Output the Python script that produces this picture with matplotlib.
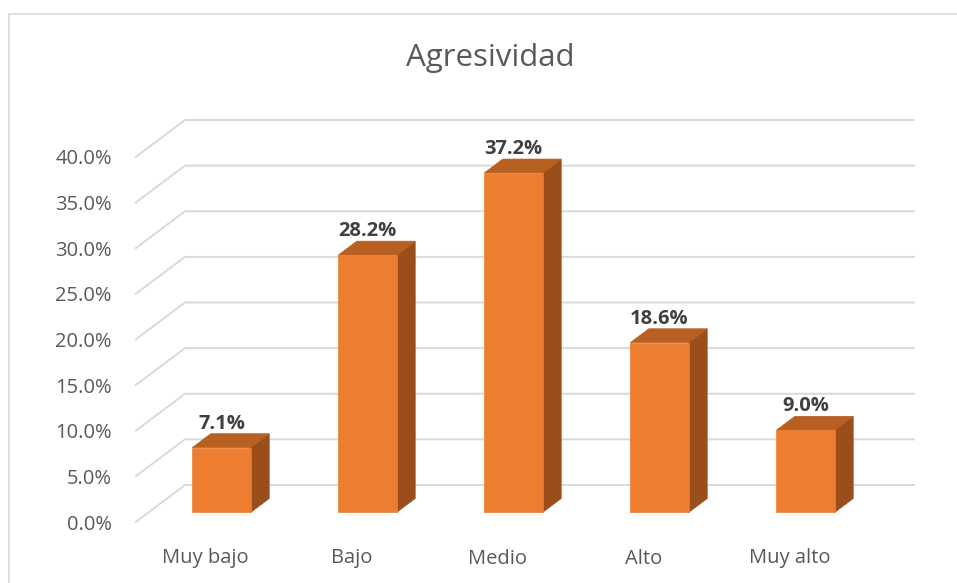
import matplotlib.pyplot as plt
import matplotlib.patches as patches
from matplotlib.patches import Polygon

# data
categorias = ["Muy bajo", "Bajo", "Medio", "Alto", "Muy alto"]
valores = [7.1, 28.2, 37.2, 18.6, 9.0]
etiquetas = ["7.1%", "28.2%", "37.2%", "18.6%", "9.0%"]
ticks_y = [0, 5, 10, 15, 20, 25, 30, 35, 40]
ticks_txt = ["0.0%", "5.0%", "10.0%", "15.0%", "20.0%", "25.0%", "30.0%", "35.0%", "40.0%"]

# depth of the 3d box in data units (front minus back)
DX = -50 / 146
DY = -37.5 / 9.125
f_front = 0.73
f_back = 0.36
hw = 0.2

c_front = "#ED7D31"
c_top = "#B85F22"
c_side = "#9A4E1B"
c_grid = "#D9D9D9"

plt.rcParams['font.family'] = ['Open Sans', 'DejaVu Sans']

fig = plt.figure(figsize=(9.57, 5.83), dpi=100)
ax = fig.add_axes([185 / 957, 98 / 583, 730 / 957, 365 / 583])
ax.set_xlim(-0.5, 4.5)
ax.set_ylim(0, 40)
ax.axis("off")

# chart border
fig.patches.append(patches.Rectangle((9 / 957, -0.5), 1.5, 0.5 + 569 / 583,
                                     transform=fig.transFigure, fill=False,
                                     edgecolor=c_grid, linewidth=1.2))

# gridlines on side wall and back wall
for v, t in zip(ticks_y, ticks_txt):
    ax.plot([-0.5 + DX, -0.5, 4.5], [v + DY, v, v], color=c_grid, lw=1.4,
            clip_on=False, zorder=1, solid_capstyle="butt")
    ax.annotate(t, xy=(-0.5 + DX, v + DY), xytext=(-23, -2), textcoords="offset pixels",
                ha="right", va="center", fontsize=14.5, color="#595959",
                annotation_clip=False)

# bars
for i, (h, lab) in enumerate(zip(valores, etiquetas)):
    fx, fy = f_front * DX, f_front * DY
    bx, by = f_back * DX, f_back * DY
    l, r = i - hw, i + hw
    front = [(l + fx, fy), (r + fx, fy), (r + fx, h + fy), (l + fx, h + fy)]
    top = [(l + fx, h + fy), (r + fx, h + fy), (r + bx, h + by), (l + bx, h + by)]
    side = [(r + fx, fy), (r + bx, by), (r + bx, h + by), (r + fx, h + fy)]
    for pts, c in [(side, c_side), (top, c_top), (front, c_front)]:
        ax.add_patch(Polygon(pts, closed=True, facecolor=c, edgecolor=c,
                             lw=0.5, clip_on=False, zorder=3))
    ax.annotate(lab, xy=(i + fx, h + by), xytext=(0, 5), textcoords="offset pixels",
                ha="center", va="baseline", fontsize=14.5, fontweight="bold",
                color="#404040", annotation_clip=False, zorder=4)
    ax.annotate(categorias[i], xy=(i + 1.05 * DX, DY), xytext=(0, -41),
                textcoords="offset pixels", ha="center", va="baseline",
                fontsize=14.5, color="#595959", annotation_clip=False)

fig.text(490 / 957, 1 - 58 / 583, "Agresividad", ha="center", va="center",
         fontsize=22.5, color="#595959")

fig.savefig("out.png", dpi=100)
